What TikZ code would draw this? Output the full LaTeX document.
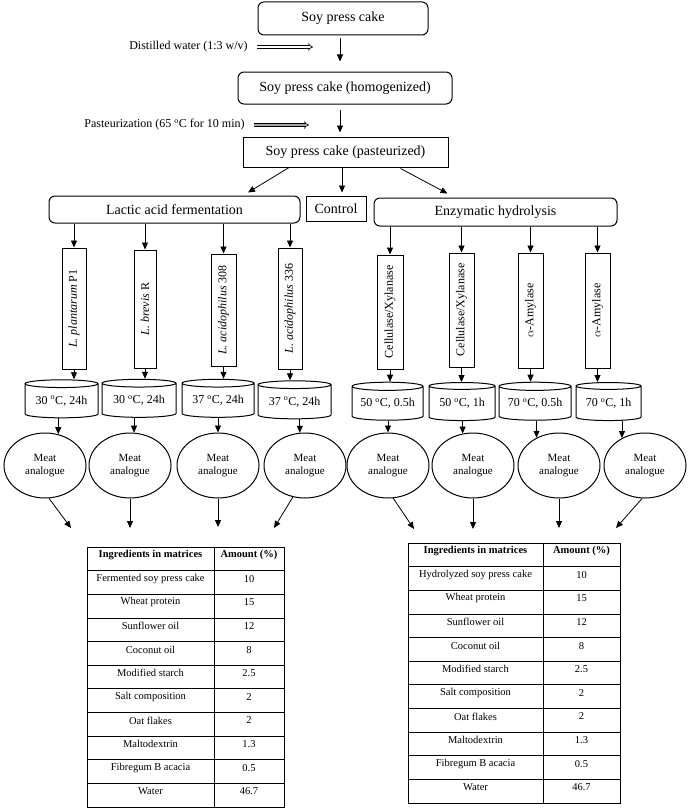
\documentclass[tikz,border=0pt]{standalone}
\usepackage{fontspec}
\setmainfont{Liberation Serif}
\usetikzlibrary{arrows.meta,shapes.geometric,positioning}

\begin{document}
\begin{tikzpicture}[x=1pt,y=-1pt,line width=0.8pt,
	tip/.style={-{Triangle[length=7pt,width=6pt]}},
	dbl/.style={double,double distance=2pt,line width=0.6pt,-{Implies}},
	bigbox/.style={draw,line width=1pt,rounded corners=6pt,inner sep=0pt,font=\fontsize{14}{16}\selectfont},
	sqbox/.style={draw,line width=1pt,inner sep=0pt,font=\fontsize{14}{16}\selectfont},
	side/.style={inner sep=0pt,font=\fontsize{12}{14}\selectfont},
	strain/.style={draw,line width=1pt,rotate=90,inner sep=0pt,font=\fontsize{12}{14}\selectfont},
	vessel/.style={draw,line width=1pt,cylinder,shape border rotate=90,aspect=0.15,minimum height=38pt,inner sep=0pt,font=\fontsize{12}{14}\selectfont},
	product/.style={draw,line width=1pt,ellipse,minimum width=82pt,minimum height=65pt,inner sep=0pt,align=center,font=\fontsize{11}{13}\selectfont},
	cell/.style={inner sep=0pt,font=\fontsize{10.5}{12}\selectfont},
	head/.style={inner sep=0pt,font=\fontsize{10.5}{12}\selectfont\bfseries}]
	\useasboundingbox (0,0) rectangle (688,808);

	% preparation of the press cake
	\node[bigbox,minimum width=170pt,minimum height=33pt] (cake) at (343,18.5) {Soy press cake};
	\node[bigbox,minimum width=214pt,minimum height=32pt] (homog) at (345,88) {Soy press cake (homogenized)};
	\node[sqbox,minimum width=205pt,minimum height=30pt] (past) at (345.5,152) {Soy press cake (pasteurized)};
	\draw[tip] ([xshift=-3pt,yshift=-3pt]cake.south) -- ([xshift=-5pt,yshift=10pt]homog.north);
	\draw[tip] ([xshift=-5pt,yshift=-5pt]homog.south) -- ([xshift=-5.5pt,yshift=4pt]past.north);
	\node[side,anchor=east] (water) at (248,47) {Distilled water (1:3 w/v)};
	\coordinate (waterend) at (313,47);
	\draw[dbl] ([xshift=9pt]water.east) -- (waterend);
	\node[side,anchor=east] (heat) at (245,125) {Pasteurization (65 \textsuperscript{o}C for 10 min)};
	\coordinate (heatend) at (309,125);
	\draw[dbl,double=gray!70] ([xshift=9pt]heat.east) -- (heatend);

	% three branches
	\node[bigbox,minimum width=251pt,minimum height=27pt] (lactic) at (174.5,209.5) {Lactic acid fermentation};
	\node[sqbox,minimum width=60pt,minimum height=25pt] (control) at (336,208.5) {Control};
	\node[bigbox,minimum width=243pt,minimum height=28pt] (enzyme) at (495.5,212) {Enzymatic hydrolysis};
	\draw[tip] ([xshift=-56.5pt]past.south) -- ([xshift=73.5pt,yshift=3pt]lactic.north);
	\draw[tip] ([xshift=-3.5pt]past.south) -- ([xshift=6pt,yshift=3pt]control.north);
	\draw[tip] ([xshift=55pt,yshift=-1pt]past.south) -- ([xshift=-48pt,yshift=4pt]enzyme.north);

	% strains and enzymes
	\foreach \i/\x/\y/\h/\w/\txt in {1/74/308.5/121/24/{\textit{L. plantarum} P1},
		2/145/309/118/22/{\textit{L. brevis} R},
		3/223.5/310/112/25/{\textit{L. acidophilus} 308},
		4/290/308.5/121/24/{\textit{L. acidophilus} 336}}{
		\node[strain,minimum width=\h pt,minimum height=\w pt] (s\i) at (\x,\y) {\txt};
		\draw[tip] (lactic.south -| s\i.east) -- (s\i.east);
	}
	\foreach \i/\x/\y/\h/\w/\txt in {5/390/312/114/26/{Cellulase/Xylanase},
		6/461.5/310/114/25/{Cellulase/Xylanase},
		7/530.5/310.5/115/25/{$\alpha$-Amylase},
		8/597.5/310.5/115/25/{$\alpha$-Amylase}}{
		\node[strain,minimum width=\h pt,minimum height=\w pt] (s\i) at (\x,\y) {\txt};
		\draw[tip] (enzyme.south -| s\i.east) -- (s\i.east);
	}

	% incubation
	\foreach \i/\x/\y/\w/\txt in {1/61.5/401/73/{30 \textsuperscript{o}C, 24h},
		2/139/400.5/74/{30 \textsuperscript{o}C, 24h},
		3/218/400.5/72/{37 \textsuperscript{o}C, 24h},
		4/294.5/402/73/{37 \textsuperscript{o}C, 24h},
		5/387.5/403.5/71/{50 \textsuperscript{o}C, 0.5h},
		6/462/403.5/66/{50 \textsuperscript{o}C, 1h},
		7/535/403.5/72/{70 \textsuperscript{o}C, 0.5h},
		8/608.5/403.5/65/{70 \textsuperscript{o}C, 1h}}{
		\node[vessel,minimum width=\w pt] (c\i) at (\x,\y) {\txt};
		\draw[tip] (s\i.west) -- (s\i.west |- c\i.north);
	}

	% products
	\foreach \i/\x/\a in {1/45/67,2/130/83,3/218/90,4/305/99,5/388/90,6/473/108,7/559/129,8/645/130}{
		\node[product] (m\i) at (\x,465.5) {Meat\\analogue};
		\draw[tip] (c\i.south -| m\i.\a) -- (m\i.\a);
	}
	\foreach \i/\a/\ex/\ey in {1/-83/71/528,2/-90/130/528,3/-90/218/527,4/-111/274/528,
		5/-81/414/529,6/-90/473/529,7/-90/559/528,8/-95/616/528}{
		\coordinate (e\i) at (\ex,\ey);
		\draw[tip] (m\i.\a) -- (e\i);
	}

	% tables of the matrices
	\draw (87,547) rectangle (284,807);
	\draw (214,547) -- (214,807);
	\draw (408,543) rectangle (620,803);
	\draw (543,543) -- (543,803);
	\foreach \k in {1,...,10}{
		\draw (87,{547+23.64*\k}) -- (284,{547+23.64*\k});
		\draw (408,{543+23.64*\k}) -- (620,{543+23.64*\k});
	}
	\node[head] (lhead) at (150.5,555) {Ingredients in matrices};
	\node[head] (lamt) at (249,555) {Amount (\%)};
	\node[head] (rhead) at (475.5,551) {Ingredients in matrices};
	\node[head] (ramt) at (581.5,551) {Amount (\%)};
	\foreach \txt/\amt [count=\k] in {Fermented soy press cake/10,Wheat protein/15,Sunflower oil/12,
		Coconut oil/8,Modified starch/2.5,Salt composition/2,Oat flakes/2,Maltodextrin/1.3,
		Fibregum B acacia/0.5,Water/46.7}{
		\node[cell] (li\k) at (150.5,{555+23.64*\k}) {\txt};
		\node[cell] (la\k) at (249,{555+23.64*\k}) {\amt};
	}
	\foreach \txt/\amt [count=\k] in {Hydrolyzed soy press cake/10,Wheat protein/15,Sunflower oil/12,
		Coconut oil/8,Modified starch/2.5,Salt composition/2,Oat flakes/2,Maltodextrin/1.3,
		Fibregum B acacia/0.5,Water/46.7}{
		\node[cell] (ri\k) at (475.5,{551+23.64*\k}) {\txt};
		\node[cell] (ra\k) at (581.5,{551+23.64*\k}) {\amt};
	}
\end{tikzpicture}
\end{document}
